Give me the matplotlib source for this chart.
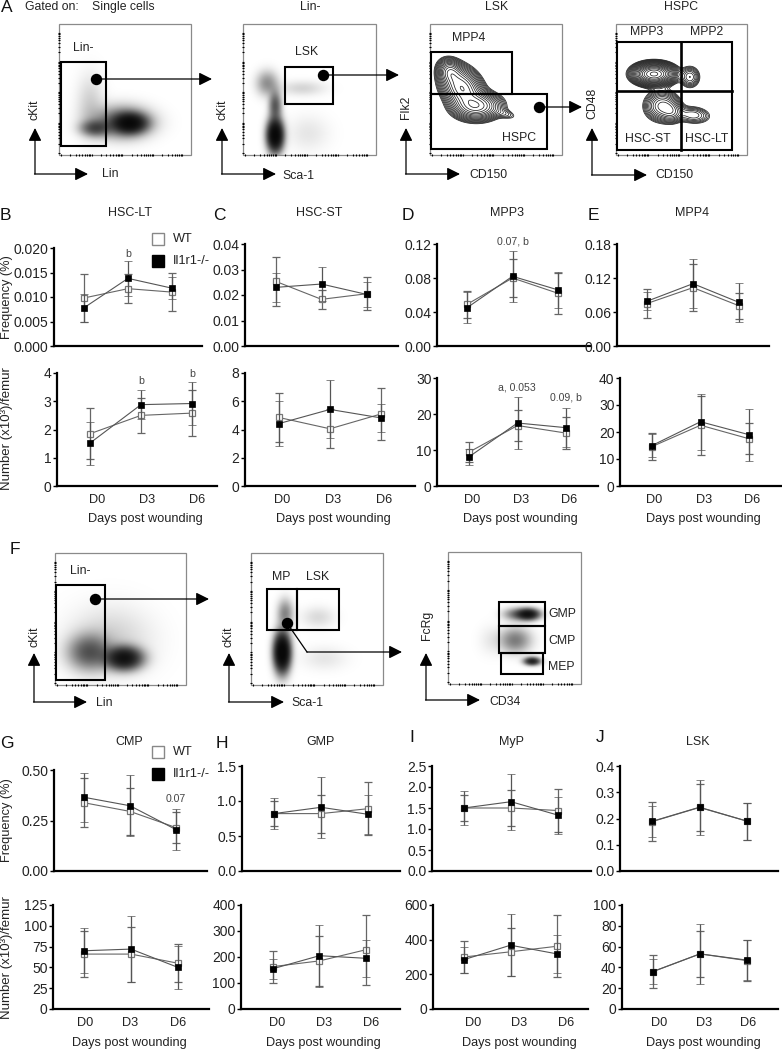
import numpy as np
import matplotlib
matplotlib.use("Agg")
import matplotlib.pyplot as plt
from matplotlib.patches import Rectangle

plt.rcParams['font.family'] = ['Liberation Sans', 'DejaVu Sans']

W, H = 782, 1050

days = [0, 3, 6]
day_labels = ['D0', 'D3', 'D6']

# means and sd, one list per day
hsc_lt_freq_wt = [0.0098, 0.0117, 0.0110]
hsc_lt_freq_wt_err = [0.0048, 0.0029, 0.0038]
hsc_lt_freq_ko = [0.0078, 0.0138, 0.0118]
hsc_lt_freq_ko_err = [0.0029, 0.0036, 0.0022]
hsc_lt_num_wt = [1.85, 2.50, 2.58]
hsc_lt_num_wt_err = [0.90, 0.63, 0.82]
hsc_lt_num_ko = [1.52, 2.88, 2.92]
hsc_lt_num_ko_err = [0.76, 0.52, 0.75]

hsc_st_freq_wt = [0.0253, 0.0183, 0.0205]
hsc_st_freq_wt_err = [0.0095, 0.0037, 0.0065]
hsc_st_freq_ko = [0.0230, 0.0243, 0.0202]
hsc_st_freq_ko_err = [0.0057, 0.0068, 0.0050]
hsc_st_num_wt = [4.85, 4.05, 5.10]
hsc_st_num_wt_err = [1.70, 1.37, 1.83]
hsc_st_num_ko = [4.42, 5.42, 4.82]
hsc_st_num_ko_err = [1.60, 2.05, 1.02]

mpp3_freq_wt = [0.049, 0.080, 0.062]
mpp3_freq_wt_err = [0.016, 0.022, 0.024]
mpp3_freq_ko = [0.045, 0.082, 0.066]
mpp3_freq_ko_err = [0.018, 0.030, 0.021]
mpp3_num_wt = [9.4, 16.8, 14.7]
mpp3_num_wt_err = [2.8, 4.3, 4.4]
mpp3_num_ko = [8.1, 17.5, 16.2]
mpp3_num_ko_err = [2.2, 7.2, 5.5]

mpp4_freq_wt = [0.075, 0.103, 0.071]
mpp4_freq_wt_err = [0.026, 0.041, 0.023]
mpp4_freq_ko = [0.079, 0.110, 0.077]
mpp4_freq_ko_err = [0.016, 0.043, 0.034]
mpp4_num_wt = [14.6, 22.5, 17.5]
mpp4_num_wt_err = [5.1, 11.0, 5.7]
mpp4_num_ko = [15.0, 23.8, 19.0]
mpp4_num_ko_err = [4.2, 10.4, 9.6]

cmp_freq_wt = [0.338, 0.295, 0.215]
cmp_freq_wt_err = [0.122, 0.117, 0.075]
cmp_freq_ko = [0.365, 0.323, 0.205]
cmp_freq_ko_err = [0.120, 0.150, 0.100]
cmp_num_wt = [66, 66, 55]
cmp_num_wt_err = [28, 33, 23]
cmp_num_ko = [70, 72, 50]
cmp_num_ko_err = [27, 40, 26]

gmp_freq_wt = [0.82, 0.82, 0.89]
gmp_freq_wt_err = [0.18, 0.27, 0.38]
gmp_freq_ko = [0.82, 0.91, 0.81]
gmp_freq_ko_err = [0.22, 0.44, 0.28]
gmp_num_wt = [163, 185, 228]
gmp_num_wt_err = [62, 97, 135]
gmp_num_ko = [155, 205, 195]
gmp_num_ko_err = [38, 120, 72]

myp_freq_wt = [1.50, 1.50, 1.44]
myp_freq_wt_err = [0.32, 0.42, 0.52]
myp_freq_ko = [1.50, 1.65, 1.33]
myp_freq_ko_err = [0.40, 0.67, 0.44]
myp_num_wt = [300, 330, 362]
myp_num_wt_err = [95, 140, 180]
myp_num_ko = [285, 368, 318]
myp_num_ko_err = [75, 180, 110]

lsk_freq_wt = [0.188, 0.242, 0.190]
lsk_freq_wt_err = [0.075, 0.090, 0.070]
lsk_freq_ko = [0.189, 0.243, 0.190]
lsk_freq_ko_err = [0.060, 0.105, 0.070]
lsk_num_wt = [36, 53, 46.5]
lsk_num_wt_err = [16, 22, 19.5]
lsk_num_ko = [36, 53, 47]
lsk_num_ko_err = [12, 29, 19.5]

# flow clouds: centre x, centre y, spread x, spread y, angle, weight (in picture pixels)
a1_cloud = [(130, 123, 10, 6, 0, 1.0), (122, 122, 18, 10, 0, 0.4), (95, 128, 9, 5, 0, 0.4), (90, 105, 9, 20, 0, 0.08)]
a2_cloud = [(275, 135, 5, 10, 0, 1.4), (275, 105, 4, 9, 0, 0.4), (267, 83, 7, 8, 0, 0.22), (302, 88, 15, 5, 0, 0.07), (308, 133, 14, 12, 0, 0.04)]
f1_cloud = [(124, 658, 11, 7, 0, 1.0), (89, 652, 13, 11, 0, 0.4), (110, 640, 27, 22, 0, 0.08)]
f2_cloud = [(282, 652, 5, 12, 0, 1.5), (285, 613, 5, 9, 0, 0.25), (318, 617, 11, 7, 0, 0.06), (324, 658, 15, 8, 0, 0.04)]
f3_cloud = [(528, 614, 7, 3.5, 0, 1.0), (515, 614, 8, 4, 0, 0.25), (515, 640, 10, 8, 0, 0.28), (532, 661, 5, 2.5, 0, 0.8), (490, 640, 8, 10, 0, 0.03)]
a3_cloud = [(450, 72, 6, 7, -35, 0.5), (462, 88, 9, 12, -40, 1.0), (477, 106, 12, 7, 0, 0.9), (505, 114, 8, 3, 15, 0.07)]
a4_cloud = [(654, 74, 10, 5.3, 0, 1.0), (690, 77, 5.5, 6, 0, 0.10), (662, 106, 9, 8, 0, 0.20), (672, 112, 6, 6, 0, 0.10), (693, 115, 10, 5, 5, 0.08)]


fig = plt.figure(figsize=(W / 100, H / 100), dpi=100)


def px_axes(left, right, top, bottom):
    return fig.add_axes([left / W, 1 - bottom / H, (right - left) / W, (bottom - top) / H], facecolor='none')


def line_panel(box, xs, ymax, ticks, fmt, wt, wt_err, ko, ko_err, lab_xs=None):
    left, right, top, bottom = box
    ax = px_axes(left, right, top, bottom)
    sc = (xs[1] - xs[0]) / 6.0
    ax.set_xlim((left - xs[0]) / sc, (right - xs[0]) / sc)
    ax.set_ylim(0, ymax)
    for s in ['top', 'right']:
        ax.spines[s].set_visible(False)
    for s in ['left', 'bottom']:
        ax.spines[s].set_linewidth(1.6)
    ax.set_yticks(ticks)
    ax.set_yticklabels([fmt % t for t in ticks], fontsize=10, color='#222222')
    ax.tick_params(axis='y', length=3, width=1, pad=1)
    if lab_xs:
        ax.set_xticks([(p - xs[0]) / sc for p in lab_xs])
        ax.set_xticklabels(day_labels, fontsize=9.2, color='#222222')
        ax.tick_params(axis='x', length=0, pad=6)
    else:
        ax.set_xticks([])
    ax.errorbar(days, wt, yerr=wt_err, color='#666666', lw=0.8, capsize=2.6, capthick=0.7, elinewidth=0.9,
                marker='s', ms=4.8, mfc='white', mec='#777777', mew=0.9, clip_on=False, zorder=3)
    ax.errorbar(days, ko, yerr=ko_err, color='#555555', lw=0.8, capsize=2.6, capthick=0.7, elinewidth=0.9,
                marker='s', ms=4.8, mfc='black', mec='black', mew=0.5, clip_on=False, zorder=4)
    return ax


line_panel((54, 202, 248, 346), (84, 172), 0.020, [0, .005, .01, .015, .02], '%.3f', hsc_lt_freq_wt, hsc_lt_freq_wt_err, hsc_lt_freq_ko, hsc_lt_freq_ko_err)
line_panel((57, 217, 373, 486), (90, 192), 4, [0, 1, 2, 3, 4], '%d', hsc_lt_num_wt, hsc_lt_num_wt_err, hsc_lt_num_ko, hsc_lt_num_ko_err, (97, 147, 197))
line_panel((245, 398, 244, 346), (276, 367), 0.04, [0, .01, .02, .03, .04], '%.2f', hsc_st_freq_wt, hsc_st_freq_wt_err, hsc_st_freq_ko, hsc_st_freq_ko_err)
line_panel((245, 415, 373, 486), (279, 381), 8, [0, 2, 4, 6, 8], '%d', hsc_st_num_wt, hsc_st_num_wt_err, hsc_st_num_ko, hsc_st_num_ko_err, (282, 333, 384))
line_panel((437, 590, 244, 346), (467, 558), 0.12, [0, .04, .08, .12], '%.2f', mpp3_freq_wt, mpp3_freq_wt_err, mpp3_freq_ko, mpp3_freq_ko_err)
line_panel((437, 598, 378, 486), (469, 566), 30, [0, 10, 20, 30], '%d', mpp3_num_wt, mpp3_num_wt_err, mpp3_num_ko, mpp3_num_ko_err, (472, 521, 569))
line_panel((617, 769, 244, 346), (647, 739), 0.18, [0, .06, .12, .18], '%.2f', mpp4_freq_wt, mpp4_freq_wt_err, mpp4_freq_ko, mpp4_freq_ko_err)
line_panel((620, 782, 378, 486), (652, 749), 40, [0, 10, 20, 30, 40], '%d', mpp4_num_wt, mpp4_num_wt_err, mpp4_num_ko, mpp4_num_ko_err, (654, 704, 752))

line_panel((54, 207, 770, 871), (84, 176), 0.50, [0, .25, .5], '%.2f', cmp_freq_wt, cmp_freq_wt_err, cmp_freq_ko, cmp_freq_ko_err)
line_panel((53, 209, 905, 1009), (84, 178), 125, [0, 25, 50, 75, 100, 125], '%d', cmp_num_wt, cmp_num_wt_err, cmp_num_ko, cmp_num_ko_err, (85, 130, 178))
line_panel((242, 400, 766, 871), (274, 368), 1.5, [0, .5, 1, 1.5], '%.1f', gmp_freq_wt, gmp_freq_wt_err, gmp_freq_ko, gmp_freq_ko_err)
line_panel((241, 400, 905, 1009), (273, 366), 400, [0, 100, 200, 300, 400], '%d', gmp_num_wt, gmp_num_wt_err, gmp_num_ko, gmp_num_ko_err, (277, 324, 371))
line_panel((432, 591, 766, 871), (464, 558), 2.5, [0, .5, 1, 1.5, 2, 2.5], '%.1f', myp_freq_wt, myp_freq_wt_err, myp_freq_ko, myp_freq_ko_err)
line_panel((433, 588, 905, 1009), (464, 557), 600, [0, 200, 400, 600], '%d', myp_num_wt, myp_num_wt_err, myp_num_ko, myp_num_ko_err, (473, 519, 566))
line_panel((620, 778, 766, 871), (652, 747), 0.4, [0, .1, .2, .3, .4], '%.1f', lsk_freq_wt, lsk_freq_wt_err, lsk_freq_ko, lsk_freq_ko_err)
line_panel((622, 778, 905, 1009), (653, 747), 100, [0, 20, 40, 60, 80, 100], '%d', lsk_num_wt, lsk_num_wt_err, lsk_num_ko, lsk_num_ko_err, (659, 704, 748))

# everything else is drawn on one overlay in picture pixels
ov = fig.add_axes([0, 0, 1, 1], facecolor='none')
ov.set_axis_off()


def density(cloud, x0, x1, y0, y1):
    xx, yy = np.meshgrid(np.arange(x0, x1, 0.5), np.arange(y0, y1, 0.5))
    z = np.zeros_like(xx)
    for cx, cy, sx, sy, ang, w in cloud:
        t = np.deg2rad(ang)
        u = (xx - cx) * np.cos(t) + (yy - cy) * np.sin(t)
        v = -(xx - cx) * np.sin(t) + (yy - cy) * np.cos(t)
        z += w * np.exp(-0.5 * (u / sx) ** 2 - 0.5 * (v / sy) ** 2)
    return xx, yy, z


def flow_box(x0, x1, y0, y1):
    ov.add_patch(Rectangle((x0, y0), x1 - x0, y1 - y0, fill=False, ec='#8a8a8a', lw=0.9, zorder=2))
    # log style tick marks on the left and bottom edges
    minor = np.log10(np.arange(1, 10))
    fr = np.concatenate([(d + minor) / 4.3 for d in range(4)])
    fr = fr[fr < 0.97] + 0.015
    ov.vlines(x0 + fr * (x1 - x0), y1 - 1.5, y1 + 0.5, color='black', lw=0.8, zorder=3)
    ov.hlines(y1 - fr * (y1 - y0), x0 - 1.5, x0 + 0.5, color='black', lw=0.8, zorder=3)


def dots(cloud, x0, x1, y0, y1):
    xx, yy, z = density(cloud, x0, x1, y0, y1)
    rgba = np.zeros(z.shape + (4,))
    rgba[..., 3] = np.clip(1 - np.exp(-2.6 * z), 0, 0.97)
    ov.imshow(rgba, extent=(x0, x1, y1, y0), aspect='auto', interpolation='bilinear', zorder=1)


def rings(cloud, x0, x1, y0, y1, n=16, low=0.04):
    xx, yy, z = density(cloud, x0, x1, y0, y1)
    ov.contour(xx, yy, z, levels=np.geomspace(low, z.max() * 0.93, n), colors='#222222', linewidths=0.55, zorder=1)


def gate(x0, x1, y0, y1, lw=1.5):
    ov.add_patch(Rectangle((x0, y0), x1 - x0, y1 - y0, fill=False, ec='black', lw=lw, zorder=4))


def arrow(x0, y0, x1, y1, lw=0.9, ms=13):
    ov.annotate('', xy=(x1, y1), xytext=(x0, y0), zorder=6,
                arrowprops=dict(arrowstyle='-|>,head_length=0.6,head_width=0.3', mutation_scale=ms, color='black',
                                lw=lw, shrinkA=0, shrinkB=0))


def dot(x, y):
    ov.plot([x], [y], 'o', ms=7.2, color='black', zorder=7)


def axes_cross(x, y_bottom, y_top, x_right):
    arrow(x, y_bottom, x, y_top)
    arrow(x - 0.5, y_bottom, x_right, y_bottom)


def label(x, y, s, size=8.8, **kw):
    kw.setdefault('ha', 'center')
    kw.setdefault('color', '#222222')
    ov.text(x, y, s, fontsize=size, va='center', **kw)


# panel A
dots(a1_cloud, 59, 191, 24, 155)
flow_box(59, 191, 24, 155)
gate(61, 106, 62, 146)
label(83, 48, 'Lin-')
arrow(96, 79, 212, 79)
dot(96, 79)
axes_cross(35, 174, 128, 88)
label(35, 110, 'cKit', rotation=90)
label(110, 174, 'Lin')

dots(a2_cloud, 243, 376, 24, 155)
flow_box(243, 376, 24, 155)
gate(285, 333, 67, 104)
label(307, 52, 'LSK')
arrow(323, 75, 399, 75)
dot(323, 75)
axes_cross(222, 174, 128, 276)
label(222, 110, 'cKit', rotation=90)
label(298, 176, 'Sca-1')

rings(a3_cloud, 430, 562, 24, 155)
flow_box(430, 562, 24, 155)
gate(431, 512, 52, 94)
gate(431, 547, 94, 149)
label(469, 38, 'MPP4')
label(519, 138, 'HSPC')
arrow(539, 107, 582, 107)
dot(539, 107)
axes_cross(406, 174, 128, 460)
label(406, 107, 'Flk2', rotation=90)
label(488, 175, 'CD150')

rings(a4_cloud, 616, 747, 24, 155, n=20, low=0.02)
flow_box(616, 747, 24, 155)
gate(617, 732, 42, 150)
ov.plot([681, 681], [42, 150], color='black', lw=1.9, zorder=4)
ov.plot([617, 732], [91, 91], color='black', lw=1.9, zorder=4)
label(647, 32, 'MPP3')
label(707, 32, 'MPP2')
label(648, 139, 'HSC-ST')
label(707, 139, 'HSC-LT')
axes_cross(592, 175, 128, 647)
label(592, 103, 'CD48', rotation=90)
label(674, 175, 'CD150')

label(25, 7, 'Gated on:', ha='left')
label(92, 7, 'Single cells', ha='left')
label(310, 7, 'Lin-')
label(497, 7, 'LSK')
label(681, 7, 'HSPC')

# panel F
dots(f1_cloud, 55, 186, 553, 685)
flow_box(55, 186, 553, 685)
gate(56, 105, 585, 680)
label(80, 571, 'Lin-')
arrow(95, 599, 209, 599)
dot(95, 599)
axes_cross(34, 702, 653, 87)
label(34, 637, 'cKit', rotation=90)
label(104, 703, 'Lin')

dots(f2_cloud, 251, 383, 553, 685)
flow_box(251, 383, 553, 685)
gate(267, 297, 589, 630)
gate(297, 339, 589, 630)
label(281, 577, 'MP')
label(318, 577, 'LSK')
ov.plot([287, 307], [623, 652], color='black', lw=0.9, zorder=6)
arrow(307, 652, 402, 652)
dot(287, 623)
axes_cross(229, 702, 653, 284)
label(229, 637, 'cKit', rotation=90)
label(307, 703, 'Sca-1')

dots(f3_cloud, 448, 581, 552, 684)
flow_box(448, 581, 552, 684)
gate(499, 545, 602, 626)
gate(499, 545, 626, 653)
gate(501, 543, 653, 674)
label(548, 614, 'GMP', ha='left')
label(548, 641, 'CMP', ha='left')
label(548, 667, 'MEP', ha='left')
axes_cross(426, 700, 653, 480)
label(427, 625, 'FcRg', rotation=90)
label(505, 702, 'CD34')

# titles, axis names, legends
for x, y, s in [(130, 213, 'HSC-LT'), (319, 213, 'HSC-ST'), (507, 213, 'MPP3'), (692, 213, 'MPP4'),
                (129, 742, 'CMP'), (321, 742, 'GMP'), (512, 742, 'MyP'), (698, 742, 'LSK')]:
    label(x, y, s, size=9)
for x in (145, 333, 520, 703):
    label(x, 519, 'Days post wounding', size=9.2)
for x in (129, 323, 519, 703):
    label(x, 1043, 'Days post wounding', size=9.2)
label(7, 297, 'Frequency (%)', size=9.2, rotation=90)
label(7, 429, 'Number (x10³)/femur', size=9.5, rotation=90)
label(7, 820, 'Frequency (%)', size=9.2, rotation=90)
label(7, 958, 'Number (x10³)/femur', size=9.5, rotation=90)

for y_wt, y_ko in [(239, 261), (752, 774)]:
    ov.plot([158], [y_wt], 's', ms=8.6, mfc='white', mec='#888888', mew=1, zorder=7)
    ov.plot([158], [y_ko], 's', ms=8.6, mfc='black', mec='black', mew=1, zorder=7)
    label(173, y_wt, 'WT', ha='left', size=9.2)
    label(173, y_ko, 'Il1r1-/-', ha='left', size=9.2)

for x, y, s in [(128, 254, 'b'), (141, 381, 'b'), (192, 374, 'b'), (513, 242, '0.07, b'),
                (517, 387, 'a, 0.053'), (566, 397, '0.09, b'), (176, 799, '0.07')]:
    label(x, y, s, size=7.6, color='#444444')

for x, y, s in [(7, 8, 'A'), (5, 215, 'B'), (219, 215, 'C'), (408, 215, 'D'), (593, 215, 'E'), (15, 550, 'F'),
                (7, 744, 'G'), (222, 744, 'H'), (412, 737, 'I'), (600, 737, 'J')]:
    label(x, y, s, size=12.5, color='#111111')

ov.set_xlim(0, W)
ov.set_ylim(H, 0)

fig.savefig('out.png', dpi=100)
